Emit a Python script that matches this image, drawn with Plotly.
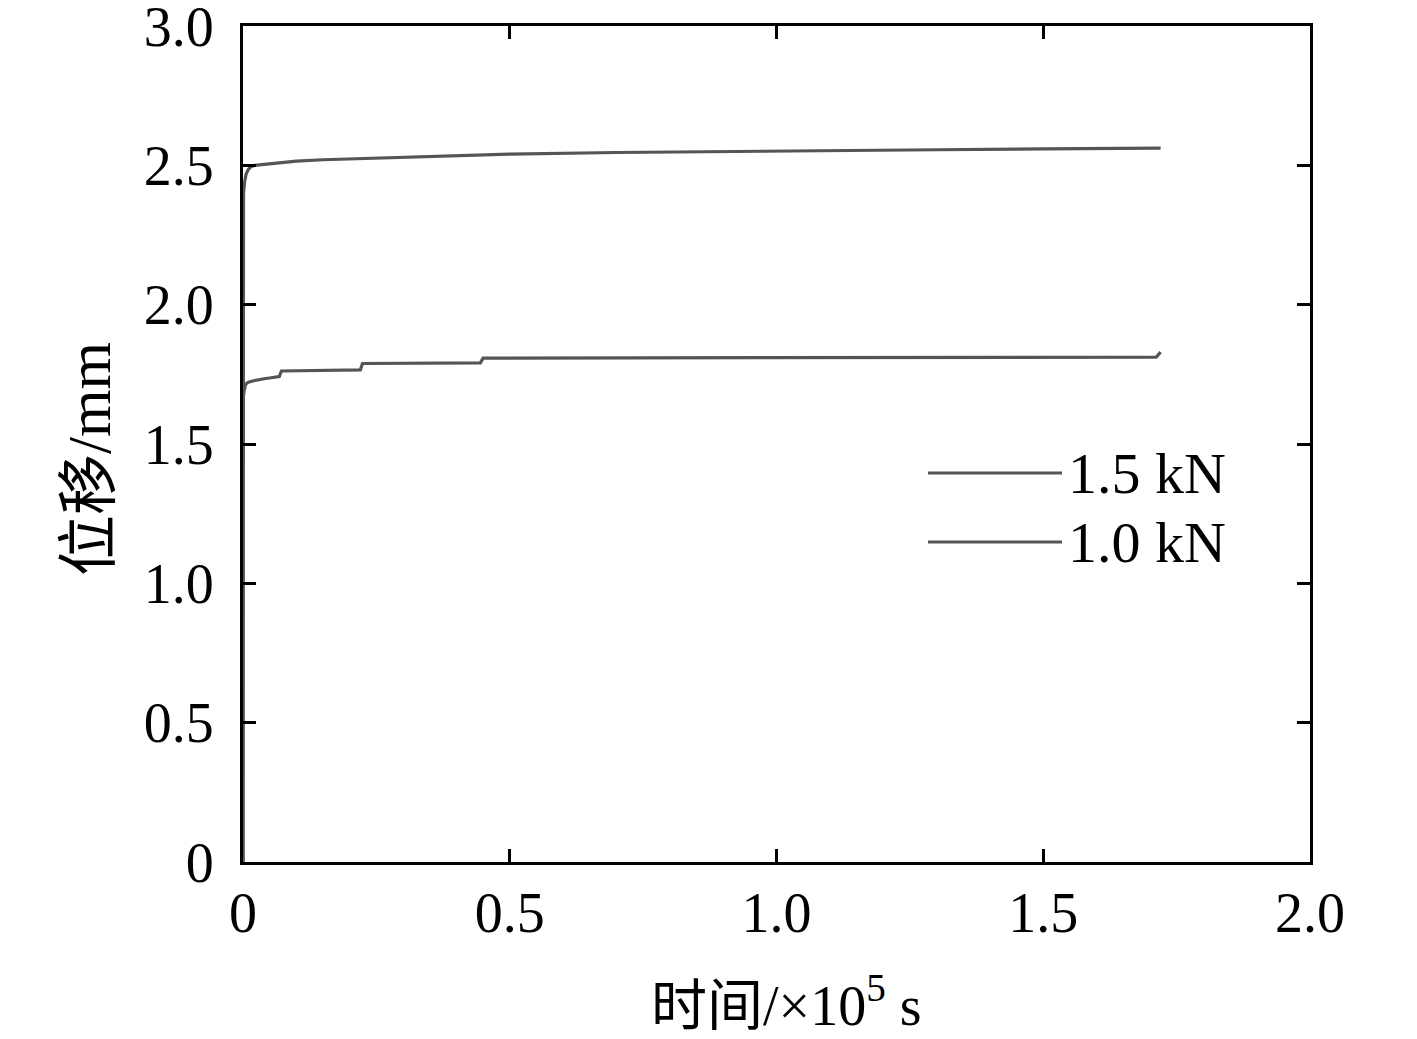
import plotly.graph_objects as go

# 1.5 kN series (time in 1e5 s, displacement in mm)
t_15 = [0, 0, 0.001, 0.003, 0.006, 0.01, 0.015, 0.022, 0.035, 0.05, 0.07, 0.1, 0.15, 0.2, 0.3, 0.4, 0.5, 0.7, 0.9, 1.1, 1.3, 1.5, 1.72]
d_15 = [0, 2.30, 2.40, 2.44, 2.47, 2.485, 2.495, 2.50, 2.503, 2.506, 2.51, 2.515, 2.52, 2.523, 2.529, 2.535, 2.54, 2.546, 2.55, 2.553, 2.556, 2.559, 2.562]

# 1.0 kN series
t_10 = [0, 0, 0.002, 0.005, 0.01, 0.02, 0.04, 0.068, 0.072, 0.22, 0.224, 0.445, 0.45, 1.0, 1.5, 1.712, 1.72]
d_10 = [0, 1.66, 1.69, 1.715, 1.722, 1.727, 1.734, 1.742, 1.762, 1.766, 1.789, 1.791, 1.808, 1.809, 1.810, 1.812, 1.83]

series_names = ["1.5 kN", "1.0 kN"]
x_ticks = [0, 0.5, 1.0, 1.5, 2.0]
x_ticktext = ["0", "0.5", "1.0", "1.5", "2.0"]
y_ticks = [0, 0.5, 1.0, 1.5, 2.0, 2.5, 3.0]
y_ticktext = ["0", "0.5", "1.0", "1.5", "2.0", "2.5", "3.0"]

LINE = "#555555"
FONT = "Liberation Serif, Times New Roman, Noto Sans CJK SC, serif"
W, H = 1417, 1039
L, R, T, B = 243, 1310, 26, 862

def px(xp):
    return (xp - L) / (R - L)

def py(yp):
    return (B - yp) / (B - T)

fig = go.Figure()
fig.add_trace(go.Scatter(x=t_15, y=d_15, mode="lines", name=series_names[0],
                         line=dict(color=LINE, width=3.2), showlegend=False))
fig.add_trace(go.Scatter(x=t_10, y=d_10, mode="lines", name=series_names[1],
                         line=dict(color=LINE, width=3.2), showlegend=False))

axis_common = dict(
    showline=True, linecolor="black", linewidth=3, mirror="ticks",
    ticks="inside", ticklen=13, tickwidth=3, tickcolor="black",
    showgrid=False, zeroline=False, ticklabeloverflow="allow",
    automargin=False,
    tickfont=dict(family=FONT, size=56, color="black"),
)

fig.update_xaxes(range=[0, 2.0], tickvals=x_ticks, ticktext=x_ticktext,
                 ticklabelstandoff=0, **axis_common)
fig.update_yaxes(range=[0, 3.0], tickvals=y_ticks, ticktext=y_ticktext,
                 ticklabelstandoff=15, **axis_common)

# legend drawn manually (long line samples)
legend_y = [473, 542]
for name, yy in zip(series_names, legend_y):
    fig.add_shape(type="line", xref="paper", yref="paper",
                  x0=px(928), x1=px(1062), y0=py(yy), y1=py(yy),
                  line=dict(color=LINE, width=3.2))
    fig.add_annotation(xref="paper", yref="paper", x=px(1066), y=py(yy),
                       text=name, showarrow=False, xanchor="left", yanchor="middle",
                       font=dict(family=FONT, size=58, color="black"))

fig.add_annotation(xref="paper", yref="paper", x=px(786), y=py(1001),
                   text="时间/×10<sup>5</sup> s", showarrow=False,
                   xanchor="center", yanchor="middle",
                   font=dict(family=FONT, size=56, color="black"))
fig.add_annotation(xref="paper", yref="paper", x=px(89), y=py(459),
                   text="位移/mm", showarrow=False, textangle=-90,
                   xanchor="center", yanchor="middle",
                   font=dict(family=FONT, size=61, color="black"))

fig.update_layout(
    width=W, height=H,
    margin=dict(l=L, r=W - R, t=T, b=H - B, autoexpand=False),
    paper_bgcolor="white", plot_bgcolor="white",
    showlegend=False,
)

fig.write_html("out.html", config={"displayModeBar": False},
               post_script="document.body.style.margin='0';document.body.style.overflow='hidden';")
